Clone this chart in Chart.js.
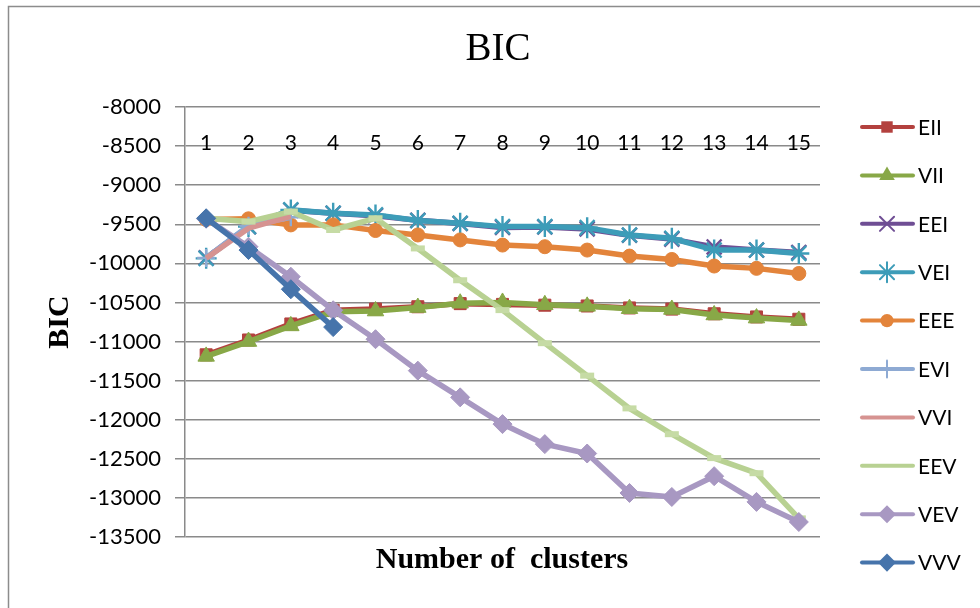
<!DOCTYPE html>
<html>
<head>
<meta charset="utf-8">
<script src="https://cdn.jsdelivr.net/npm/chart.js@4/dist/chart.umd.min.js"></script>
<style>
html,body{margin:0;padding:0;background:#fff;}
#wrap{position:relative;width:980px;height:608px;}
</style>
</head>
<body>
<div id="wrap"><canvas id="c" width="980" height="608"></canvas></div>
<script>
const categories = ['1','2','3','4','5','6','7','8','9','10','11','12','13','14','15'];
const yTicks = [-8000,-8500,-9000,-9500,-10000,-10500,-11000,-11500,-12000,-12500,-13000,-13500];
const seriesNames = ['EII','VII','EEI','VEI','EEE','EVI','VVI','EEV','VEV','VVV'];
const EII = [-11170,-10980,-10775,-10600,-10585,-10555,-10515,-10525,-10535,-10545,-10570,-10585,-10645,-10685,-10715];
const VII = [-11190,-11000,-10800,-10620,-10610,-10565,-10510,-10500,-10530,-10550,-10580,-10590,-10660,-10700,-10730];
const EEI = [-9930,-9530,-9320,-9360,-9390,-9450,-9490,-9540,-9535,-9560,-9640,-9690,-9790,-9830,-9860];
const VEI = [-9936,-9530,-9316,-9358,-9380,-9453,-9487,-9530,-9530,-9543,-9637,-9680,-9830,-9830,-9873];
const EEE = [-9440,-9430,-9508,-9508,-9580,-9637,-9700,-9766,-9787,-9830,-9907,-9950,-10034,-10064,-10129];
const EVI = [-9930,-9520,-9410,null,null,null,null,null,null,null,null,null,null,null,null];
const VVI = [-9936,-9550,-9400,null,null,null,null,null,null,null,null,null,null,null,null];
const EEV = [-9423,-9466,-9337,-9573,-9423,-9809,-10216,-10598,-11021,-11436,-11855,-12185,-12491,-12684,-13262];
const VEV = [-9430,-9787,-10171,-10600,-10970,-11372,-11714,-12056,-12312,-12432,-12937,-12988,-12722,-13051,-13308];
const VVV = [-9423,-9830,-10331,-10815,null,null,null,null,null,null,null,null,null,null,null];

const seriesData = [EII,VII,EEI,VEI,EEE,EVI,VVI,EEV,VEV,VVV];
const colors = ['#B3413E','#88A847','#6F4E94','#3D9CB8','#E3843B','#8EAAD3','#D69391','#B8D192','#A898C2','#4674AB'];
const markers = ['rect','triangle','crossRot','star','circle','cross',null,'line','rectRot','rectRot'];
const markerRadius = [8.5,9.5,10.5,10.5,7,9,0,7,9.5,9.5];
const legendMarker = [true,true,true,true,true,true,false,false,true,true];

function drawMarker(ctx, style, r, x, y, color, lw){
  if(!style) return;
  ctx.save();
  ctx.fillStyle = color; ctx.strokeStyle = color; ctx.lineWidth = lw;
  ctx.beginPath();
  const s2 = Math.SQRT1_2;
  switch(style){
    case 'rect': { const s = s2*r; ctx.rect(x-s,y-s,2*s,2*s); ctx.fill(); break; }
    case 'triangle': {
      ctx.moveTo(x, y - r);
      ctx.lineTo(x + r*Math.sin(2*Math.PI/3), y - r*Math.cos(2*Math.PI/3));
      ctx.lineTo(x + r*Math.sin(4*Math.PI/3), y - r*Math.cos(4*Math.PI/3));
      ctx.closePath(); ctx.fill(); break; }
    case 'rectRot': ctx.moveTo(x,y-r); ctx.lineTo(x+r,y); ctx.lineTo(x,y+r); ctx.lineTo(x-r,y); ctx.closePath(); ctx.fill(); break;
    case 'circle': ctx.arc(x,y,r,0,Math.PI*2); ctx.fill(); break;
    case 'crossRot': { const s = s2*r; ctx.moveTo(x-s,y-s); ctx.lineTo(x+s,y+s); ctx.moveTo(x+s,y-s); ctx.lineTo(x-s,y+s); ctx.stroke(); break; }
    case 'star': { const s = s2*r; ctx.moveTo(x-s,y-s); ctx.lineTo(x+s,y+s); ctx.moveTo(x+s,y-s); ctx.lineTo(x-s,y+s); ctx.moveTo(x,y-r); ctx.lineTo(x,y+r); ctx.stroke(); break; }
    case 'cross': ctx.moveTo(x,y-r); ctx.lineTo(x,y+r); ctx.stroke(); break;
  }
  ctx.restore();
}

const datasets = seriesNames.map((name,i)=>({
  label: name,
  data: seriesData[i],
  borderColor: colors[i],
  backgroundColor: colors[i],
  borderWidth: 5.5,
  pointStyle: markers[i] || false,
  pointRadius: markers[i] ? markerRadius[i] : 0,
  pointBorderWidth: (markers[i]==='crossRot'||markers[i]==='star'||markers[i]==='cross') ? 2.4 : (markers[i]==='line' ? 6 : 1),
  pointBorderColor: markers[i]==='line' ? '#C6DBA5' : colors[i],
  pointBackgroundColor: colors[i],
  tension: 0,
  spanGaps: false,
  order: 10 - i
}));

const decor = {
  id: 'decor',
  beforeDraw(chart){
    const ctx = chart.ctx;
    ctx.save();
    ctx.fillStyle = '#fff'; ctx.fillRect(0,0,980,608);
    ctx.strokeStyle = '#8c8c8c'; ctx.lineWidth = 1.5;
    ctx.beginPath(); ctx.moveTo(8.5,608); ctx.lineTo(8.5,6.5); ctx.lineTo(980,6.5); ctx.stroke();
    ctx.restore();
  },
  afterDatasetsDraw(chart){
    const ctx = chart.ctx;
    const xs = chart.scales.x, ys = chart.scales.y;
    ctx.save();
    ctx.fillStyle = '#000';
    ctx.font = '21px Lato';
    ctx.textAlign = 'center'; ctx.textBaseline = 'middle';
    const ly = ys.getPixelForValue(-8500) - 3;
    categories.forEach((c,i)=>{ ctx.fillText(c, xs.getPixelForValue(i), ly); });
    ctx.font = '39px "Liberation Serif"';
    ctx.fillText('BIC', 498, 50);
    ctx.font = 'bold 30px "Liberation Serif"';
    ctx.fillText('Number of  clusters', 502, 560);
    ctx.save();
    ctx.translate(60, 322); ctx.rotate(-Math.PI/2);
    ctx.font = 'bold 30px "Liberation Serif"';
    ctx.fillText('BIC', 0, 0);
    ctx.restore();
    seriesNames.forEach((name,i)=>{
      const y = 127 + i*48.4;
      ctx.strokeStyle = colors[i]; ctx.lineWidth = 4; ctx.lineCap = 'round';
      ctx.beginPath(); ctx.moveTo(862,y); ctx.lineTo(913,y); ctx.stroke();
      if(legendMarker[i]) drawMarker(ctx, markers[i], markerRadius[i]*0.95, 887, y, colors[i], 2);
      ctx.fillStyle = '#000'; ctx.font = '21px Lato'; ctx.textAlign = 'left'; ctx.textBaseline = 'middle';
      ctx.fillText(name, 918, y+1);
    });
    ctx.restore();
  }
};

new Chart(document.getElementById('c'), {
  type: 'line',
  data: { labels: categories, datasets },
  options: {
    responsive: false,
    animation: false,
    devicePixelRatio: 1,
    layout: { padding: { left: 0, top: 107, right: 160, bottom: 71 } },
    plugins: { legend: { display: false }, tooltip: { enabled: false }, title: { display: false } },
    scales: {
      x: {
        type: 'category',
        offset: true,
        display: false,
        afterFit(s){ s.height = 0; }
      },
      y: {
        min: -13500, max: -8000,
        afterBuildTicks(s){ s.ticks = yTicks.map(v=>({value:v})); },
        afterFit(s){ s.width = 185; },
        ticks: { color: '#000', font: { family: 'Lato', size: 22 }, padding: 14, callback: (v)=>String(v) },
        grid: { color: '#8a8a8a', lineWidth: 1.5, tickLength: 10, drawTicks: true },
        border: { display: true, color: '#8a8a8a', width: 1.5 }
      }
    }
  },
  plugins: [decor]
});
</script>
</body>
</html>
